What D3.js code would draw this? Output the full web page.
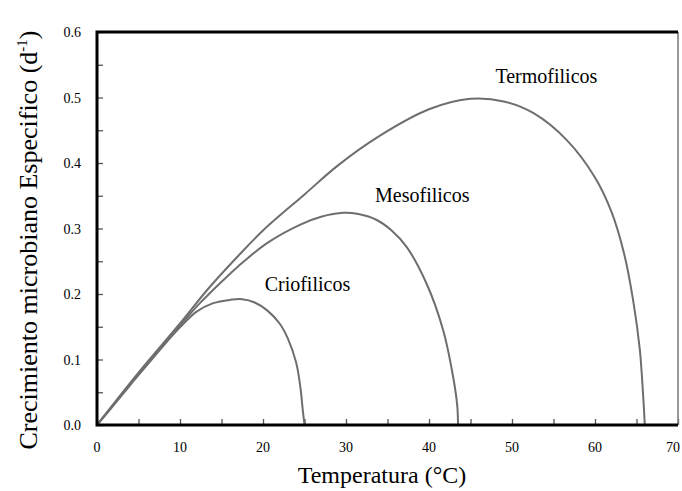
<!DOCTYPE html>
<html>
<head>
<meta charset="utf-8">
<script src="https://cdn.jsdelivr.net/npm/d3@7"></script>
<style>
  body { margin: 0; background: #fff; }
  svg { display: block; font-family: "Liberation Serif", "Times New Roman", serif; }
</style>
</head>
<body>
<svg class="chart"></svg>
<script>
// data: [temperature, rate]
var crioData = [[0, 0], [2, 0.03], [4, 0.061], [6, 0.091], [8, 0.121], [10, 0.149], [12, 0.173],
  [14, 0.186], [16, 0.191], [17.5, 0.192], [19, 0.187], [20.5, 0.175], [22, 0.155], [23, 0.132],
  [24, 0.095], [24.5, 0.058], [24.8, 0.022], [25, 0]];
var mesoData = [[0, 0], [5, 0.078], [10, 0.152], [12.4, 0.186], [15.2, 0.221], [17, 0.242],
  [20.4, 0.277], [24.5, 0.306], [27, 0.318], [29.7, 0.324], [31.5, 0.322], [33.7, 0.313],
  [35.5, 0.297], [37.3, 0.272], [39.7, 0.216], [41.7, 0.145], [42.9, 0.074], [43.4, 0.03], [43.5, 0]];
var termoData = [[0, 0], [5, 0.08], [10, 0.155], [13.4, 0.208], [17, 0.258], [20, 0.297], [25, 0.352],
  [29, 0.396], [34, 0.441], [40, 0.482], [45, 0.498], [49, 0.494], [52.6, 0.476], [56.6, 0.435],
  [60, 0.378], [62, 0.325], [63.5, 0.262], [64.6, 0.19], [65.4, 0.115], [65.8, 0.045], [66, 0]];
var seriesNames = ["Criofilicos", "Mesofilicos", "Termofilicos"];
var labelPos = [[20.2, 0.205], [33.5, 0.341], [48, 0.522]];
var xTicks = [0, 10, 20, 30, 40, 50, 60, 70];
var yTicks = [0, 0.1, 0.2, 0.3, 0.4, 0.5, 0.6];

var W = 682, H = 491;
var margin = {top: 32, right: 4, bottom: 66, left: 97};

var svg = d3.select(".chart").attr("width", W).attr("height", H);
svg.append("rect").attr("width", W).attr("height", H).attr("fill", "#fff");

var xScale = d3.scaleLinear().domain([0, 70]).range([margin.left, W - margin.right]);
var yScale = d3.scaleLinear().domain([0, 0.6]).range([H - margin.bottom, margin.top]);

//minor ticks, pointing inward
var xAxis = d3.axisTop(xScale).tickValues(d3.range(0, 70.01, 5)).tickSize(6).tickFormat("");
svg.append("g")
  .attr("transform", "translate(0," + yScale(0) + ")")
  .call(xAxis)
  .call(g => g.select(".domain").remove())
  .call(g => g.selectAll("line").attr("stroke", "#555").attr("stroke-width", 1.3));

var yAxis = d3.axisRight(yScale).tickValues(d3.range(0, 0.601, 0.05)).tickSize(6).tickFormat("");
svg.append("g")
  .attr("transform", "translate(" + xScale(0) + ",0)")
  .call(yAxis)
  .call(g => g.select(".domain").remove())
  .call(g => g.selectAll("line").attr("stroke", "#555").attr("stroke-width", 1.3));

//tick labels (70 nudged so it stays in view)
svg.append("g").selectAll("text")
  .data(xTicks).enter().append("text")
  .attr("x", d => Math.min(xScale(d), W - 9))
  .attr("y", yScale(0) + 27)
  .attr("text-anchor", "middle")
  .attr("font-size", 14)
  .text(d => d);

svg.append("g").selectAll("text")
  .data(yTicks).enter().append("text")
  .attr("x", xScale(0) - 16)
  .attr("y", d => yScale(d) + 5)
  .attr("text-anchor", "end")
  .attr("font-size", 14)
  .text(d => d3.format(".1f")(d));

//curves
var line = d3.line()
  .x(d => xScale(d[0]))
  .y(d => yScale(d[1]))
  .curve(d3.curveCatmullRom.alpha(0.5));

var allData = [crioData, mesoData, termoData];
svg.append("g").selectAll("path")
  .data(allData).enter().append("path")
  .attr("d", line)
  .attr("fill", "none")
  .attr("stroke", "#6e6e6e")
  .attr("stroke-width", 2);

svg.append("g").selectAll("text")
  .data(seriesNames).enter().append("text")
  .attr("x", (d, i) => xScale(labelPos[i][0]))
  .attr("y", (d, i) => yScale(labelPos[i][1]))
  .attr("font-size", 20)
  .text(d => d);

//frame
svg.append("line")
  .attr("x1", xScale(70)).attr("x2", xScale(70))
  .attr("y1", yScale(0.6)).attr("y2", yScale(0))
  .attr("stroke", "#777").attr("stroke-width", 1.5);
svg.append("path")
  .attr("d", "M" + xScale(70) + "," + yScale(0.6) + "H" + xScale(0) + "V" + yScale(0) + "H" + xScale(70))
  .attr("fill", "none")
  .attr("stroke", "#000")
  .attr("stroke-width", 3);

//axis titles
svg.append("text")
  .attr("x", 382)
  .attr("y", 483)
  .attr("text-anchor", "middle")
  .attr("font-size", 24)
  .text("Temperatura (°C)");

var ylab = svg.append("text")
  .attr("transform", "translate(37," + 240 + ") rotate(-90)")
  .attr("text-anchor", "middle")
  .attr("font-size", 26);
ylab.append("tspan").text("Crecimiento microbiano Especifico (d");
ylab.append("tspan").attr("dy", -10).attr("font-size", 15).text("-1");
ylab.append("tspan").attr("dy", 10).text(")");
</script>
</body>
</html>
